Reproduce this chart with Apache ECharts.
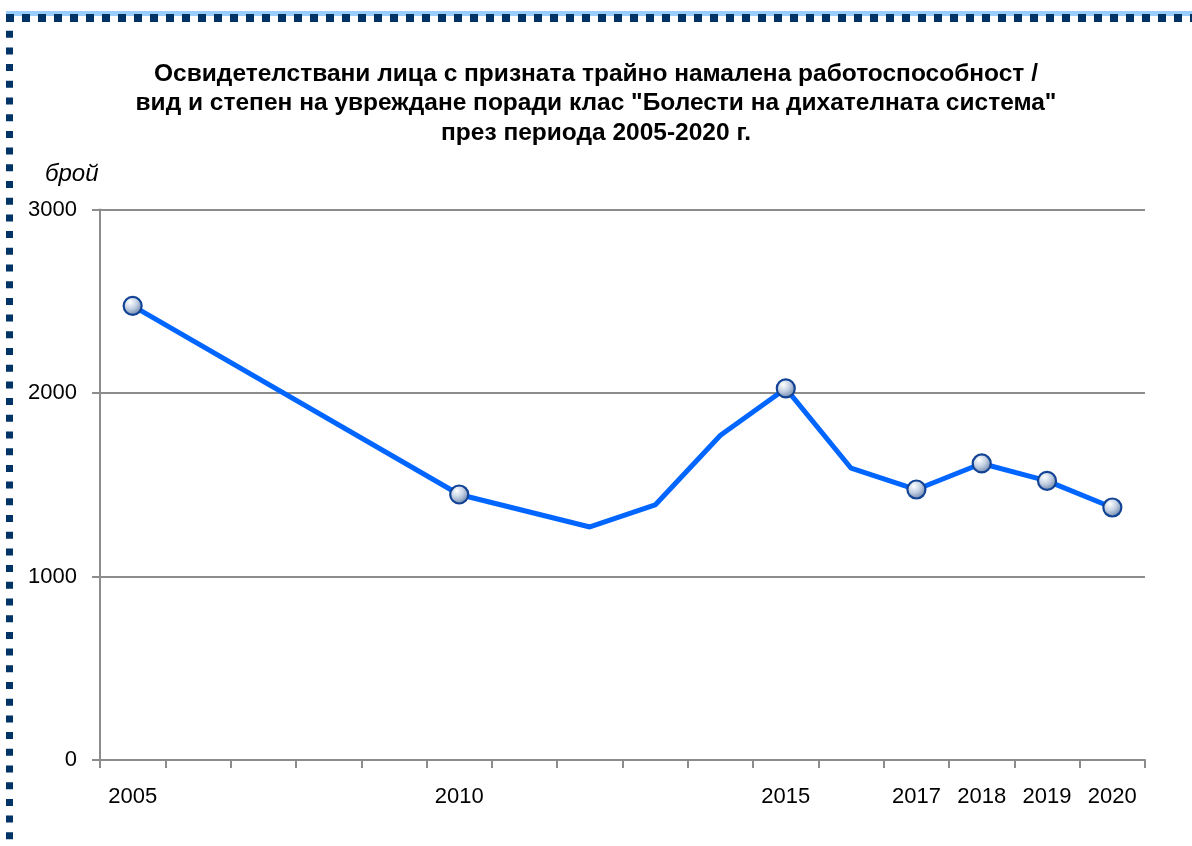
<!DOCTYPE html>
<html>
<head>
<meta charset="utf-8">
<script src="https://cdn.jsdelivr.net/npm/echarts@6/dist/echarts.min.js"></script>
<style>
    html, body { margin: 0; padding: 0; background: #fff; }
    #chart { width: 1192px; height: 846px; }
</style>
</head>
<body>
<div id="chart"></div>
<script>
// годините по оста X
var years = ['2005', '2006', '2007', '2008', '2009', '2010', '2011', '2012', '2013', '2014',
    '2015', '2016', '2017', '2018', '2019', '2020'];
// брой освидетелствани лица (null = няма точка, линията ги прескача)
var counts = [2475, null, null, null, null, 1447, null, 1270, 1390, 1770,
    2025, 1590, 1474, 1616, 1521, 1376];
// години с надпис и маркер
var labelYears = ['2005', '2010', '2015', '2017', '2018', '2019', '2020'];
var yTicks = [0, 1000, 2000, 3000];

var titleText = 'Освидетелствани лица с призната трайно намалена работоспособност /\n' +
    'вид и степен на увреждане поради клас "Болести на дихателната система"\n' +
    'през периода 2005-2020 г.';

(function() {
    var chartInstance = echarts.init(document.getElementById('chart'));
    var font = '"Liberation Sans", Arial, sans-serif';
    var grayLine = '#8c8c8c';

    var ballColor = {
        type: 'radial', x: 0.38, y: 0.32, r: 0.75,
        colorStops: [
            {offset: 0, color: '#ffffff'},
            {offset: 0.45, color: '#c2cfe2'},
            {offset: 1, color: '#55739c'}
        ]
    };

    var seriesData = [], i;
    for (i = 0; i < years.length; i++) {
        if (labelYears.indexOf(years[i]) >= 0) {
            seriesData.push({value: counts[i], symbol: 'circle'});
        } else {
            seriesData.push({value: counts[i], symbol: 'none'});
        }
    }

    var option = {
        backgroundColor: '#fff',
        animation: false,
        title: [
            {
                text: titleText,
                left: 591,
                top: 54,
                textAlign: 'center',
                textStyle: {
                    fontFamily: font,
                    fontWeight: 'bold',
                    fontSize: 24.5,
                    lineHeight: 29.5,
                    color: '#000'
                }
            },
            {
                text: 'брой',
                left: 40,
                top: 157,
                textStyle: {
                    fontFamily: font,
                    fontStyle: 'italic',
                    fontWeight: 'normal',
                    fontSize: 24,
                    color: '#000'
                }
            }
        ],
        grid: {
            left: 100,
            right: 47,
            top: 209.5,
            bottom: 86,
            containLabel: false
        },
        xAxis: {
            type: 'category',
            boundaryGap: true,
            data: years,
            axisLine: {lineStyle: {color: grayLine, width: 2}},
            axisTick: {
                show: true,
                interval: 0,
                length: 8,
                lineStyle: {color: grayLine, width: 2}
            },
            axisLabel: {
                interval: function(idx, val) {
                    return labelYears.indexOf(val) >= 0;
                },
                margin: 26,
                fontFamily: font,
                fontSize: 22,
                color: '#000'
            },
            splitLine: {show: false}
        },
        yAxis: {
            type: 'value',
            min: yTicks[0],
            max: yTicks[yTicks.length - 1],
            interval: yTicks[1] - yTicks[0],
            axisLine: {show: true, lineStyle: {color: grayLine, width: 2}},
            axisTick: {show: true, length: 8, lineStyle: {color: grayLine, width: 2}},
            axisLabel: {
                margin: 23,
                fontFamily: font,
                fontSize: 22,
                color: '#000',
                formatter: function(v) { return String(v); }
            },
            splitLine: {lineStyle: {color: grayLine, width: 2}}
        },
        series: [
            {
                type: 'line',
                data: seriesData,
                connectNulls: true,
                symbolSize: 18,
                lineStyle: {color: '#0066ff', width: 5},
                itemStyle: {
                    color: ballColor,
                    borderColor: '#124394',
                    borderWidth: 2.2
                },
                z: 3
            }
        ],
        graphic: [
            // рамка отгоре и отляво
            {
                type: 'line', silent: true,
                shape: {x1: 6, y1: 13.5, x2: 1192, y2: 13.5},
                style: {stroke: '#99ccff', lineWidth: 5}
            },
            {
                type: 'line', silent: true,
                shape: {x1: 6, y1: 18, x2: 1192, y2: 18},
                style: {stroke: '#003366', lineWidth: 8, lineDash: [8, 8]}
            },
            {
                type: 'line', silent: true,
                shape: {x1: 9.5, y1: 14, x2: 9.5, y2: 846},
                style: {stroke: '#003366', lineWidth: 7, lineDash: [7, 9.7]}
            }
        ]
    };

    chartInstance.setOption(option);
})();
</script>
</body>
</html>
